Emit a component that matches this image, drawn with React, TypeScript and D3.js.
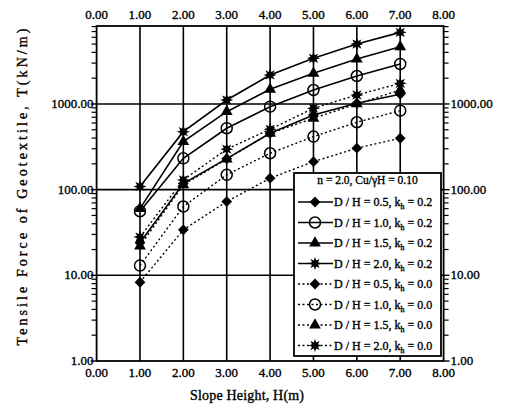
import React from "react";
import * as d3 from "d3";

const heights = [1, 2, 3, 4, 5, 6, 7];
const xTicks = [0, 1, 2, 3, 4, 5, 6, 7, 8];
const yTicks = [1, 10, 100, 1000];
const xTickLabels = ["0.00", "1.00", "2.00", "3.00", "4.00", "5.00", "6.00", "7.00", "8.00"];
const yTickLabels = ["1.00", "10.00", "100.00", "1000.00"];

// k_h = 0.2 (solid)
const tDH05k02 = [24, 118, 230, 455, 745, 1020, 1300];
const tDH10k02 = [56, 232, 521, 930, 1456, 2120, 2930];
const tDH15k02 = [60, 363, 813, 1483, 2280, 3340, 4650];
const tDH20k02 = [109, 475, 1113, 2180, 3410, 5000, 6850];
// k_h = 0.0 (dotted)
const tDH05k00 = [8.3, 34, 72.6, 136, 212, 305, 398];
const tDH10k00 = [13, 63.5, 149, 266, 416, 612, 835];
const tDH15k00 = [22, 114, 227, 455, 681, 1000, 1456];
const tDH20k00 = [28, 130, 297, 507, 890, 1274, 1740];

const seriesNames = ["0.5", "1.0", "1.5", "2.0", "0.5", "1.0", "1.5", "2.0"];
const seriesK = ["0.2", "0.2", "0.2", "0.2", "0.0", "0.0", "0.0", "0.0"];
const seriesMarkers = ["diamond", "circle", "triangle", "star", "diamond", "circle", "triangle", "star"];
const seriesValues = [tDH05k02, tDH10k02, tDH15k02, tDH20k02, tDH05k00, tDH10k00, tDH15k00, tDH20k00];

const W = 511, H = 414;
const L = 96.6, R = 443.6, T = 26, B = 361;
const FONT = "'Liberation Serif', 'DejaVu Serif', serif";
const TS = { stroke: "#000", strokeWidth: 0.35 };

const x = d3.scaleLinear().domain([0, 8]).range([L, R]);
const y = d3.scaleLog().domain([1, Math.pow(10, 3.91)]).range([B, T]);

function starPath(r1: number, r2: number) {
  const pts: string[] = [];
  const n = 8;
  for (let i = 0; i < n * 2; i++) {
    const r = i % 2 === 0 ? r1 : r2;
    const a = (Math.PI * i) / n - Math.PI / 2;
    pts.push(`${(r * Math.cos(a)).toFixed(2)},${(r * Math.sin(a)).toFixed(2)}`);
  }
  return "M" + pts.join("L") + "Z";
}

function Marker({ kind, cx, cy }: { kind: string; cx: number; cy: number }) {
  if (kind === "circle") {
    return <circle cx={cx} cy={cy} r={5.5} fill="none" stroke="#000" strokeWidth={1.5} />;
  }
  if (kind === "diamond") {
    const p = d3.symbol(d3.symbolSquare, 58)() as string;
    return <path d={p} transform={`translate(${cx},${cy}) rotate(45)`} fill="#000" />;
  }
  if (kind === "triangle") {
    const p = d3.symbol(d3.symbolTriangle, 60)() as string;
    return <path d={p} transform={`translate(${cx},${cy})`} fill="#000" />;
  }
  return <path d={starPath(6.5, 3.2)} transform={`translate(${cx},${cy})`} fill="#000" />;
}

export default function App() {
  const line = d3
    .line<number>()
    .x((_, i) => x(heights[i]))
    .y((v) => y(v));

  const minor: number[] = [];
  for (let d = 1; d <= 1000; d *= 10) {
    for (let m = 2; m <= 9; m++) {
      const v = d * m;
      if (v <= Math.pow(10, 3.91)) minor.push(v);
    }
  }

  const lgX = 294, lgY = 173, lgW = 147, lgH = 183;
  const rowY0 = 202, rowStep = 20.5;

  return (
    <svg
      width={W}
      height={H}
      style={{ position: "absolute", left: 0, top: 0, background: "#fff" }}
      fontFamily={FONT}
    >
      <rect x={0} y={0} width={W} height={H} fill="#fff" />
      {/* grid lines */}
      {heights.map((h) => (
        <line key={"vg" + h} x1={x(h)} x2={x(h)} y1={T} y2={B} stroke="#000" strokeWidth={1.6} />
      ))}
      {[10, 100, 1000].map((v) => (
        <line key={"hg" + v} x1={L} x2={R} y1={y(v)} y2={y(v)} stroke="#000" strokeWidth={1.6} />
      ))}
      {/* minor ticks */}
      {minor.map((v) => (
        <g key={"mt" + v}>
          <line x1={L - 5} x2={L} y1={y(v)} y2={y(v)} stroke="#000" strokeWidth={1.2} />
          <line x1={R} x2={R + 5} y1={y(v)} y2={y(v)} stroke="#000" strokeWidth={1.2} />
        </g>
      ))}
      {yTicks.map((v) => (
        <g key={"mj" + v}>
          <line x1={L - 6} x2={L} y1={y(v)} y2={y(v)} stroke="#000" strokeWidth={1.4} />
          <line x1={R} x2={R + 6} y1={y(v)} y2={y(v)} stroke="#000" strokeWidth={1.4} />
        </g>
      ))}

      {/* series lines */}
      {seriesValues.map((vals, si) => (
        <path
          key={"ln" + si}
          d={line(vals) as string}
          fill="none"
          stroke="#000"
          strokeWidth={seriesK[si] === "0.2" ? 1.6 : 1.4}
          strokeDasharray={seriesK[si] === "0.2" ? undefined : "2,2.5"}
        />
      ))}
      {seriesValues.map((vals, si) =>
        vals.map((v, i) => (
          <Marker key={"mk" + si + "-" + i} kind={seriesMarkers[si]} cx={x(heights[i])} cy={y(v)} />
        ))
      )}

      {/* frame */}
      <rect x={L} y={T} width={R - L} height={B - T} fill="none" stroke="#000" strokeWidth={1.8} />

      {/* x tick labels top & bottom */}
      {xTicks.map((t, i) => (
        <g key={"xt" + t}>
          <text x={x(t)} y={19} fontSize={13} textAnchor="middle" {...TS}>{xTickLabels[i]}</text>
          <text x={x(t)} y={377} fontSize={13} textAnchor="middle" {...TS}>{xTickLabels[i]}</text>
        </g>
      ))}
      {/* y tick labels left & right */}
      {yTicks.map((t, i) => (
        <g key={"yt" + t}>
          <text x={L - 3} y={y(t) + 4} fontSize={13} textAnchor="end" {...TS}>{yTickLabels[i]}</text>
          <text x={R + 7} y={y(t) + 4} fontSize={13} textAnchor="start" {...TS}>{yTickLabels[i]}</text>
        </g>
      ))}

      {/* axis titles */}
      <text x={247} y={400} fontSize={14} textAnchor="middle" textLength={114} lengthAdjust="spacing" {...TS}>
        Slope Height, H(m)
      </text>
      <text
        transform={`translate(27,187) rotate(-90)`}
        fontSize={14}
        textAnchor="middle"
        textLength={317}
        lengthAdjust="spacing"
        {...TS}
      >
        Tensile Force of Geotextile, T(kN/m)
      </text>

      {/* legend */}
      <rect x={lgX} y={lgY} width={lgW} height={lgH} fill="#fff" stroke="#000" strokeWidth={1.8} />
      <text x={lgX + lgW / 2} y={lgY + 11} fontSize={11.5} textAnchor="middle" {...TS}>
        n = 2.0,  Cu/γH = 0.10
      </text>
      {seriesNames.map((nm, i) => {
        const yy = rowY0 + i * rowStep;
        return (
          <g key={"lg" + i}>
            <line
              x1={298}
              x2={333}
              y1={yy}
              y2={yy}
              stroke="#000"
              strokeWidth={seriesK[i] === "0.2" ? 1.6 : 1.4}
              strokeDasharray={seriesK[i] === "0.2" ? undefined : "2,2.5"}
            />
            <Marker kind={seriesMarkers[i]} cx={315} cy={yy} />
            <text x={334} y={yy + 4} fontSize={12} {...TS}>
              D / H = {nm},  k
              <tspan fontSize={8} dy={3}>h</tspan>
              <tspan dy={-3}> = {seriesK[i]}</tspan>
            </text>
          </g>
        );
      })}
    </svg>
  );
}
